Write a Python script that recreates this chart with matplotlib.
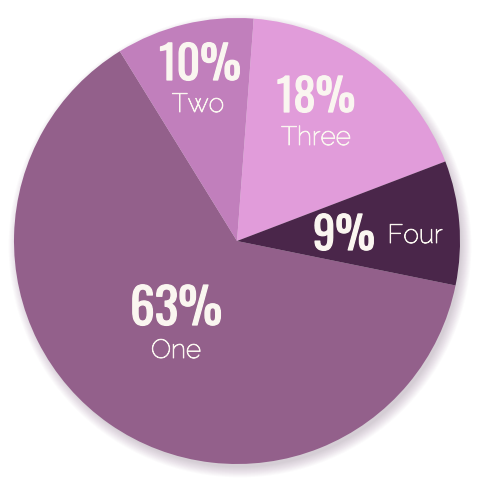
import matplotlib.pyplot as plt
import matplotlib.patheffects as pe
from matplotlib.patches import Circle

# data
labels = ['One', 'Two', 'Three', 'Four']
values = [63, 10, 18, 9]
colors = ['#93608b', '#c17fbc', '#e19cda', '#4a264a']

txt_color = '#faf6f0'
pct_font = ['Oswald', 'DejaVu Sans']
lab_font = ['Raleway', 'DejaVu Sans']

fig = plt.figure(figsize=(4.84, 4.84), dpi=100)
ax = fig.add_axes([0, 0, 1, 1])

cx, cy, r = 237, 241, 223

# soft shadow, mostly bottom right
for i in range(14):
    ax.add_patch(Circle((cx + 3, cy + 5), r - 2 + i * 0.8, color='#6a4a68',
                        alpha=0.02, lw=0, zorder=0))

ax.pie(values, colors=colors, startangle=11.5, counterclock=True,
       center=(cx, cy), radius=r, frame=True,
       wedgeprops=dict(linewidth=0))
ax.set_xlim(0, 484)
ax.set_ylim(484, 0)
ax.set_aspect('equal')
ax.axis('off')

# pct x, pct baseline, label baseline, label x, pct size
pos = {
    'One': (176, 325, 358, 176, 35.5),
    'Two': (200, 80, 112, 198, 33),
    'Three': (316, 112, 145, 316, 32),
    'Four': (344, 250, 243, 415, 32),
}
bold = [pe.withStroke(linewidth=0.9, foreground=txt_color)]
thin = [pe.withStroke(linewidth=0.6, foreground=txt_color)]
for lab, v in zip(labels, values):
    x, yb, yl, xl, fs = pos[lab]
    ax.text(x, yb, f'{v}%', color=txt_color, fontsize=fs,
            family=pct_font, ha='center', va='baseline', path_effects=bold)
    ax.text(xl, yl, lab, color=txt_color, fontsize=19, family=lab_font,
            weight='light', ha='center', va='baseline', path_effects=thin)

fig.savefig('out.png', dpi=100, facecolor='white')
